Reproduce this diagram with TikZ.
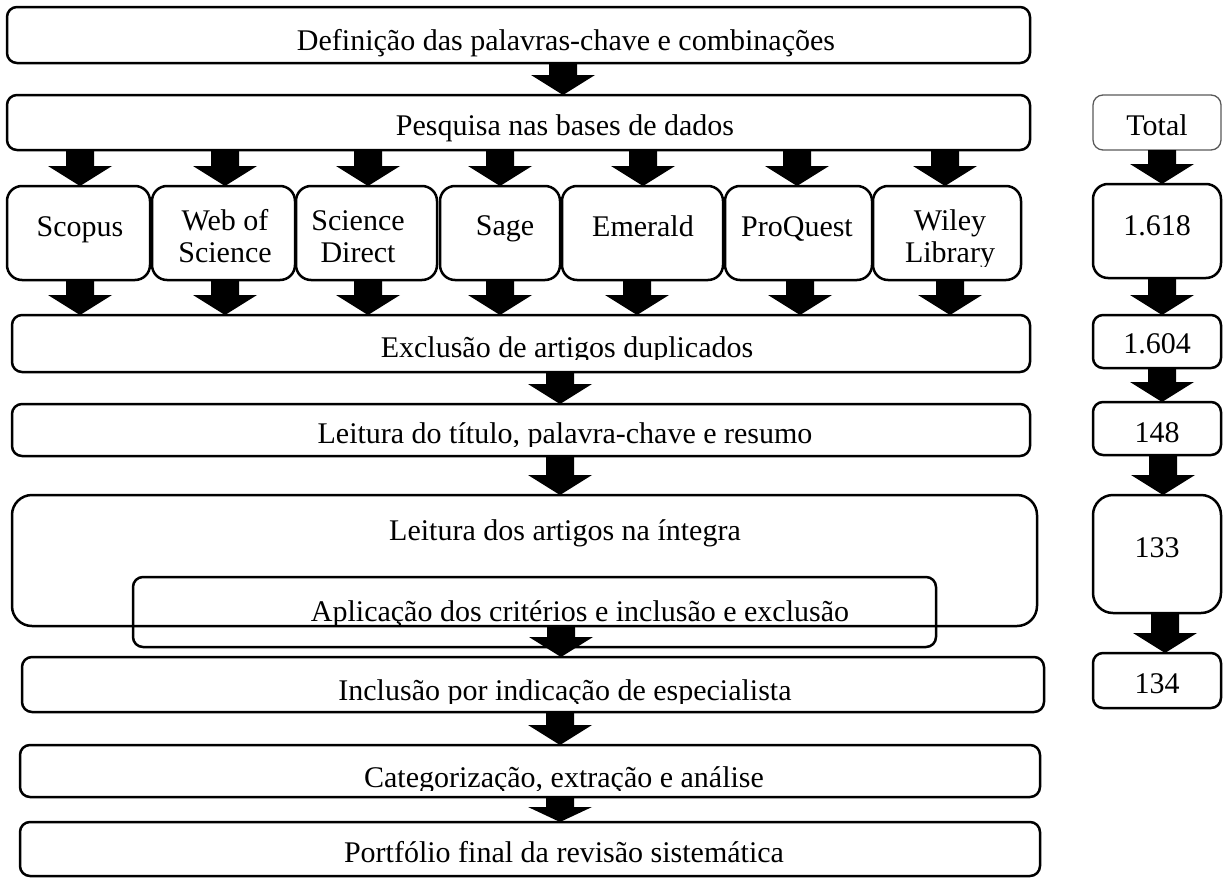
\documentclass[tikz,border=0pt]{standalone}
\usepackage{fontspec}
\setmainfont{Liberation Serif}
\usetikzlibrary{calc}
\tikzset{
  box/.style={draw, line width=2.5pt, rounded corners=10pt, inner sep=0pt, outer sep=0pt},
  bigbox/.style={box, rounded corners=20pt},
  dbbox/.style={box, rounded corners=15pt},
  thinbox/.style={draw=black!65, line width=1.3pt, rounded corners=10pt, inner sep=0pt, outer sep=0pt},
  lbl/.style={anchor=base, inner sep=0pt, font=\fontsize{30}{32}\selectfont, align=center},
}
% block arrow: [head length] {x} {from node} {to node}
\newcommand\barrow[4][20]{\fill let \p1=(#3.south), \p2=(#4.north) in
  ({#2pt-14pt},\y1) -- ({#2pt+14pt},\y1) -- ({#2pt+14pt},{\y2+#1pt}) -- ({#2pt+32pt},{\y2+#1pt})
  -- (#2pt,\y2) -- ({#2pt-32pt},{\y2+#1pt}) -- ({#2pt-14pt},{\y2+#1pt}) -- cycle;}
\begin{document}
\begin{tikzpicture}[x=1pt,y=-1pt]
\useasboundingbox (0,0) rectangle (1223,878);
% boxes
\node[box, minimum width=1023pt, minimum height=56pt] (def) at (518.5,35) {};
\node[box, minimum width=1023pt, minimum height=55pt] (pesq) at (518.5,122.5) {};
\node[thinbox, minimum width=128pt, minimum height=55pt] (total) at (1157,122.5) {};
\node[dbbox, minimum width=143pt, minimum height=94pt] (scopus) at (78.5,233) {};
\node[dbbox, minimum width=143pt, minimum height=94pt] (wos) at (223.5,233) {};
\node[dbbox, minimum width=141pt, minimum height=94pt] (sd) at (366.5,233) {};
\node[dbbox, minimum width=120pt, minimum height=94pt] (sage) at (500,233) {};
\node[dbbox, minimum width=161pt, minimum height=94pt] (emerald) at (642.5,233) {};
\node[dbbox, minimum width=147pt, minimum height=94pt] (proquest) at (798.5,233) {};
\node[dbbox, minimum width=148pt, minimum height=94pt] (wiley) at (947,233) {};
\node[dbbox, minimum width=128pt, minimum height=94pt] (n1618) at (1157,231) {};
\node[box, minimum width=1018pt, minimum height=57pt] (excl) at (521,343.5) {};
\node[box, minimum width=128pt, minimum height=53pt] (n1604) at (1157,341.5) {};
\node[box, minimum width=1018pt, minimum height=52pt] (leit) at (521,430) {};
\node[box, minimum width=128pt, minimum height=53pt] (n148) at (1157,428.5) {};
\node[bigbox, minimum width=1025pt, minimum height=131pt] (big) at (524.5,560.5) {};
\node[box, minimum width=803pt, minimum height=70pt] (inner) at (534.5,612) {};
\node[bigbox, minimum width=128pt, minimum height=118pt] (n133) at (1157,554) {};
\node[box, minimum width=1022pt, minimum height=55pt] (incl) at (533,684.5) {};
\node[box, minimum width=128pt, minimum height=55pt] (n134) at (1157,680.5) {};
\node[box, minimum width=1020pt, minimum height=52pt] (cat) at (530,771) {};
\node[box, minimum width=1020pt, minimum height=54pt] (port) at (530,849) {};
% labels
\node[lbl] (tdef) at (566,50) {Definição das palavras-chave e combinações};
\node[lbl] (tpesq) at (565,135) {Pesquisa nas bases de dados};
\node[lbl] (ttotal) at (1157,135) {Total};
\node[lbl] (tscopus) at (80,236) {Scopus};
\node[lbl] (twos) at (225,262) {Web of\\Science};
\node[lbl] (tsd) at (358,262) {Science\\Direct};
\node[lbl] (tsage) at (505,235) {Sage};
\node[lbl] (temerald) at (643,236) {Emerald};
\node[lbl] (tproquest) at (797,236) {ProQuest};
\begin{scope}
  \clip (870,180) rectangle (1025,266);
  \node[lbl] (twiley) at (950,262) {Wiley\\Library};
\end{scope}
\node[lbl] (t1618) at (1157,235) {1.618};
\begin{scope}
  \clip (0,300) rectangle (1050,359);
  \node[lbl] (texcl) at (567,357) {Exclusão de artigos duplicados};
\end{scope}
\node[lbl] (t1604) at (1157,353) {1.604};
\begin{scope}
  \clip (0,400) rectangle (1050,446);
  \node[lbl] (tleit) at (565,443) {Leitura do título, palavra-chave e resumo};
\end{scope}
\node[lbl] (t148) at (1157,442) {148};
\node[lbl] (tbig) at (565,540) {Leitura dos artigos na íntegra};
\begin{scope}
  \clip (0,580) rectangle (1050,626);
  \node[lbl] (tinner) at (580,621) {Aplicação dos critérios e inclusão e exclusão};
\end{scope}
\node[lbl] (t133) at (1157,557) {133};
\begin{scope}
  \clip (0,660) rectangle (1050,703);
  \node[lbl] (tincl) at (565,700) {Inclusão por indicação de especialista};
\end{scope}
\node[lbl] (t134) at (1157,693) {134};
\begin{scope}
  \clip (0,750) rectangle (1050,790);
  \node[lbl] (tcat) at (564,787) {Categorização, extração e análise};
\end{scope}
\node[lbl] (tport) at (564,862) {Portfólio final da revisão sistemática};
% arrows
\barrow{563}{def}{pesq}
\barrow{80}{pesq}{scopus}
\barrow{225}{pesq}{wos}
\barrow{368}{pesq}{sd}
\barrow{500}{pesq}{sage}
\barrow{643}{pesq}{emerald}
\barrow{797}{pesq}{proquest}
\barrow{945}{pesq}{wiley}
\barrow{80}{scopus}{excl}
\barrow{225}{wos}{excl}
\barrow{368}{sd}{excl}
\barrow{500}{sage}{excl}
\barrow{637}{emerald}{excl}
\barrow{800}{proquest}{excl}
\barrow{950}{wiley}{excl}
\barrow{560}{excl}{leit}
\barrow{560}{leit}{big}
\barrow{561}{big}{incl}
\barrow{560}{incl}{cat}
\barrow[15]{560}{cat}{port}
\barrow{1162}{total}{n1618}
\barrow{1162}{n1618}{n1604}
\barrow{1162}{n1604}{n148}
\barrow{1163}{n148}{n133}
\barrow{1165}{n133}{n134}
\end{tikzpicture}
\end{document}
